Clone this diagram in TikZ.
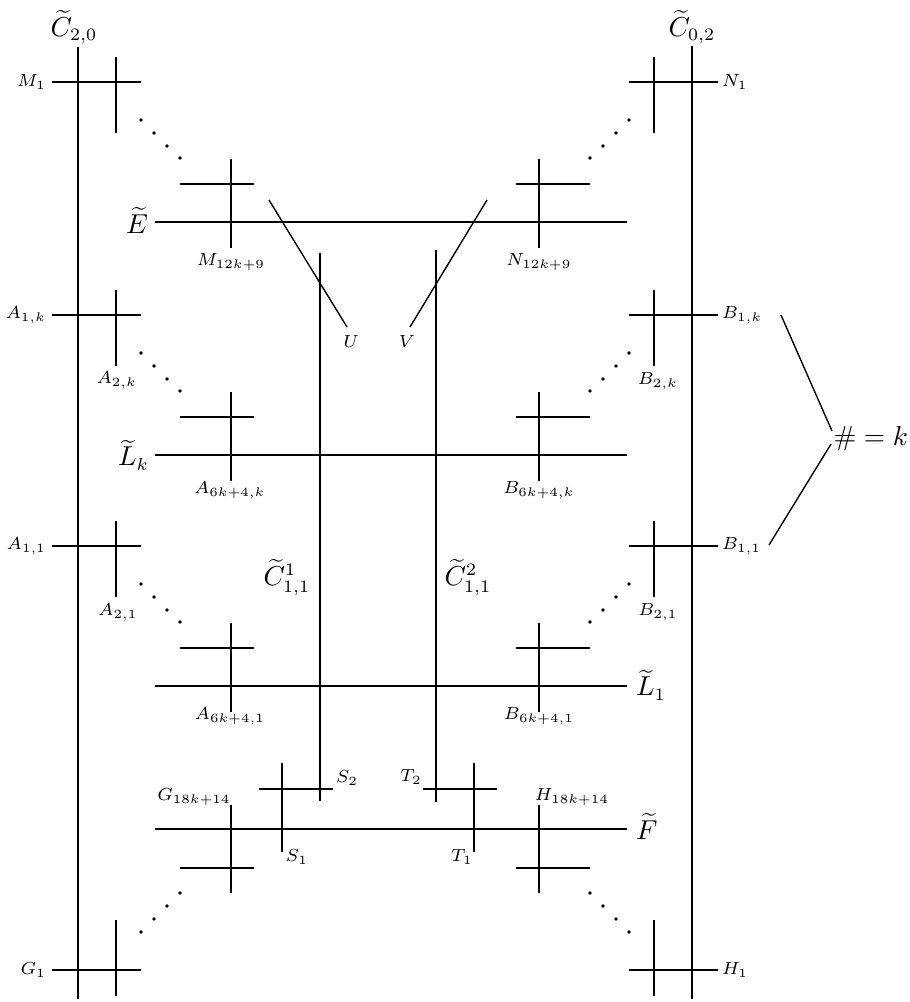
\documentclass[tikz,border=0pt]{standalone}
\begin{document}
\begin{tikzpicture}[x=0.4pt,y=-0.4pt,
  ln/.style={line width=0.55pt},
  axisln/.style={line width=0.9pt},
  sm/.style={font=\scriptsize, inner sep=1pt},
  bg/.style={font=\fontsize{10.5}{12.5}\selectfont, inner sep=1pt},
  dotc/.style={fill=black}]
\useasboundingbox (0,0) rectangle (910,1002);
% thick curves
\draw[axisln] (78,47) -- (78,999);
\draw[axisln] (692,46) -- (692,999);
% upper groups (left and right mirrored)
\foreach \y in {82,315,546}{
  \draw[ln] (52,\y) -- (141,\y);
  \draw[ln] (116,{\y-25}) -- (116,{\y+51});
  \foreach \dx/\dy in {141/38,154/51,167/64,180/76}
    \fill[dotc] (\dx,{\y+\dy}) circle[radius=0.75pt];
  \draw[ln] (180,{\y+102}) -- (254,{\y+102});
  \draw[ln] (231,{\y+77}) -- (231,{\y+166});
  \draw[ln] (155,{\y+140}) -- (627,{\y+140});
  % right
  \draw[ln] (629,\y) -- (718,\y);
  \draw[ln] (654,{\y-25}) -- (654,{\y+51});
  \foreach \dx/\dy in {629/38,616/51,603/64,590/76}
    \fill[dotc] (\dx,{\y+\dy}) circle[radius=0.75pt];
  \draw[ln] (516,{\y+102}) -- (590,{\y+102});
  \draw[ln] (539,{\y+77}) -- (539,{\y+166});
}
% bottom groups
\def\yb{970}
\draw[ln] (52,\yb) -- (141,\yb);
\draw[ln] (116,{\yb-50}) -- (116,{\yb+26});
\foreach \dx/\dy in {141/38,154/51,167/64,180/77}
  \fill[dotc] (\dx,{\yb-\dy}) circle[radius=0.75pt];
\draw[ln] (180,{\yb-102}) -- (254,{\yb-102});
\draw[ln] (231,{\yb-165}) -- (231,{\yb-77});
\draw[ln] (155,{\yb-141}) -- (627,{\yb-141});
\draw[ln] (629,\yb) -- (718,\yb);
\draw[ln] (654,{\yb-50}) -- (654,{\yb+26});
\foreach \dx/\dy in {629/38,616/51,603/64,590/77}
  \fill[dotc] (\dx,{\yb-\dy}) circle[radius=0.75pt];
\draw[ln] (516,{\yb-102}) -- (590,{\yb-102});
\draw[ln] (539,{\yb-165}) -- (539,{\yb-77});
% middle verticals
\draw[ln] (320,253) -- (320,801);
\draw[ln] (436,250) -- (436,802);
% S and T crosses
\draw[ln] (259,789) -- (333,789);
\draw[ln] (282,763) -- (282,852);
\draw[ln] (423,789) -- (497,789);
\draw[ln] (474,763) -- (474,852);
% U, V lines
\coordinate (u0) at (269,200); \coordinate (u1) at (347,327);
\coordinate (v0) at (487,200); \coordinate (v1) at (410,327);
\draw[ln] (u0) -- (u1);
\draw[ln] (v0) -- (v1);
% labels
\node[bg] (c20) at (74,27) {$\widetilde{C}_{2,0}$};
\node[bg] (c02) at (692,27) {$\widetilde{C}_{0,2}$};
\node[sm,anchor=east] (m1) at (49,82) {$M_1$};
\node[sm] (m12) at (231,262) {$M_{12k+9}$};
\node[sm,anchor=west] (n1) at (719,82) {$N_1$};
\node[sm] (n12) at (539,262) {$N_{12k+9}$};
\node[bg,anchor=east] (E) at (151,220) {$\widetilde{E}$};
\node[sm] (U) at (351,342) {$U$};
\node[sm] (V) at (407,342) {$V$};
\node[sm,anchor=east] (a1k) at (49,315) {$A_{1,k}$};
\node[sm] (a2k) at (117,380) {$A_{2,k}$};
\node[bg,anchor=east] (Lk) at (152,455) {$\widetilde{L}_k$};
\node[sm] (a6k) at (230,490) {$A_{6k+4,k}$};
\node[sm,anchor=west] (b1k) at (719,315) {$B_{1,k}$};
\node[sm] (b2k) at (658,381) {$B_{2,k}$};
\node[sm] (b6k) at (539,490) {$B_{6k+4,k}$};
\node[sm,anchor=east] (a11) at (49,546) {$A_{1,1}$};
\node[sm] (a21) at (118,612) {$A_{2,1}$};
\node[sm] (a61) at (230,716) {$A_{6k+4,1}$};
\node[sm,anchor=west] (b11) at (719,546) {$B_{1,1}$};
\node[sm] (b21) at (658,612) {$B_{2,1}$};
\node[sm] (b61) at (539,716) {$B_{6k+4,1}$};
\node[bg,anchor=west] (L1) at (633,685) {$\widetilde{L}_1$};
\node[bg] (C1) at (287,578) {$\widetilde{C}^1_{1,1}$};
\node[bg] (C2) at (468,578) {$\widetilde{C}^2_{1,1}$};
\node[bg,anchor=west,inner sep=0pt] (hk) at (833,439) {$\#=k$};
\coordinate (k0) at (781,315); \coordinate (k1) at (832,431);
\coordinate (k2) at (769,545); \coordinate (k3) at (831,444);
\draw[ln] (k0) -- (k1);
\draw[ln] (k2) -- (k3);
\node[sm,anchor=west] (S2) at (333,778) {$S_2$};
\node[sm,anchor=east] (T2) at (425,777) {$T_2$};
\node[sm] (S1) at (297,857) {$S_1$};
\node[sm] (T1) at (462,857) {$T_1$};
\node[sm] (G18) at (194,797) {$G_{18k+14}$};
\node[sm] (H18) at (572,797) {$H_{18k+14}$};
\node[bg,anchor=west] (F) at (633,826) {$\widetilde{F}$};
\node[sm,anchor=east] (G1) at (49,970) {$G_1$};
\node[sm,anchor=west] (H1) at (719,970) {$H_1$};
\end{tikzpicture}
\end{document}
